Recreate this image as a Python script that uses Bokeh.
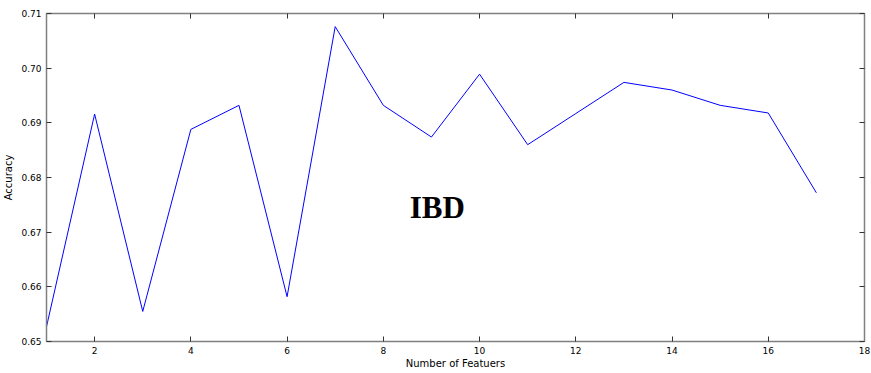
from bokeh.plotting import figure
from bokeh.models import LinearAxis, FixedTicker, Range1d, Label, PrintfTickFormatter
from bokeh.embed import file_html
from bokeh.resources import INLINE

features = list(range(1, 18))
accuracy = [0.6527, 0.6916, 0.6555, 0.6888, 0.6932, 0.6582, 0.7076, 0.6932, 0.6874,
            0.6989, 0.6860, 0.6917, 0.6974, 0.6960, 0.6932, 0.6918, 0.6772]
x_ticks = [2, 4, 6, 8, 10, 12, 14, 16, 18]
y_ticks = [0.65, 0.66, 0.67, 0.68, 0.69, 0.70, 0.71]

p = figure(width=871, height=373, output_backend="svg", toolbar_location=None,
           x_range=Range1d(1, 18), y_range=Range1d(0.65, 0.71),
           min_border_left=46, min_border_right=7, min_border_top=13, min_border_bottom=32)
p.grid.visible = False
p.background_fill_color = "white"
p.border_fill_color = "white"
p.outline_line_color = "#808080"
p.outline_line_width = 1

p.line(features, accuracy, line_color="#0000ff", line_width=1)

p.add_layout(Label(x=8.55, y=0.6714, text="IBD", text_font="Liberation Serif",
                   text_font_style="bold", text_font_size="31px", text_color="black"))

gray = "#808080"
def style(ax, labels=True):
    ax.axis_line_color = gray
    ax.axis_line_width = 1.5
    ax.major_tick_in = 5
    ax.major_tick_out = 0
    ax.minor_tick_line_color = None
    ax.major_tick_line_color = "#333333"
    ax.major_label_text_font = "DejaVu Sans"
    ax.major_label_text_font_size = "9px"
    ax.major_label_text_color = "black" if labels else None
    ax.major_label_standoff = 5 if labels else 0
    ax.axis_label_text_font = "DejaVu Sans"
    ax.axis_label_text_font_size = "10px"
    ax.axis_label_text_font_style = "normal"
    ax.axis_label_text_color = "black"

xa = p.xaxis[0]
xa.ticker = FixedTicker(ticks=x_ticks)
xa.axis_label = "Number of Featuers"
xa.axis_label_standoff = 1
style(xa)
ya = p.yaxis[0]
ya.ticker = FixedTicker(ticks=y_ticks)
ya.formatter = PrintfTickFormatter(format="%.2f")
ya.axis_label = "Accuracy"
ya.axis_label_standoff = 4
style(ya)

top = LinearAxis(ticker=FixedTicker(ticks=x_ticks))
style(top, labels=False)
p.add_layout(top, "above")
right = LinearAxis(ticker=FixedTicker(ticks=y_ticks))
style(right, labels=False)
p.add_layout(right, "right")

open("out.html", "w").write(file_html(p, INLINE))
